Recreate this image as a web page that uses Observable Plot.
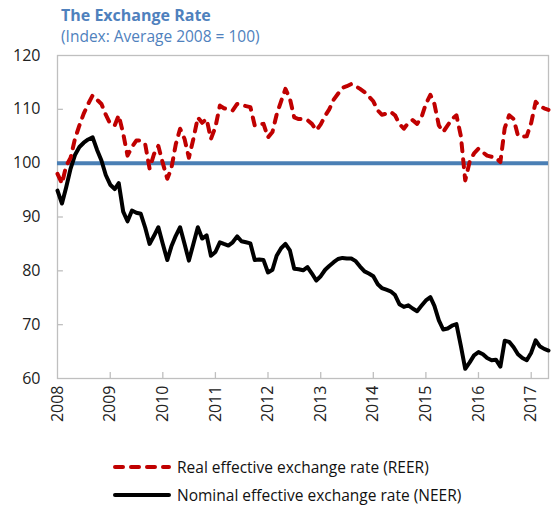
<!DOCTYPE html>
<html>
<head>
<meta charset="utf-8">
<script src="https://cdn.jsdelivr.net/npm/d3@7"></script>
<script src="https://cdn.jsdelivr.net/npm/@observablehq/plot@0.6"></script>
<style>
  body { margin: 0; background: #fff; font-family: "Open Sans", "Noto Sans", sans-serif; }
  #wrap { width: 551px; height: 508px; position: relative; overflow: hidden; }
  #hdr { height: 40px; padding-left: 61px; box-sizing: border-box; color: #4f81bd; }
  #title { font-weight: bold; font-size: 16px; line-height: 18px; padding-top: 6px; }
  #sub { font-size: 15.5px; line-height: 20px; padding-top: 2px; }
  #legend { padding-left: 113px; font-size: 15.5px; color: #111; }
  .item { display: flex; align-items: center; height: 28px; }
  .item svg { margin-right: 6px; }
</style>
</head>
<body>
<div id="wrap">
  <div id="hdr"><div id="title">The Exchange Rate</div><div id="sub">(Index: Average 2008 = 100)</div></div>
  <div id="chart"></div>
  <div id="legend"></div>
</div>
<script>
// Monthly observations, January 2008 through May 2017
const startYear = 2008;
const reer = [
  98.0, 96.2, 99.5, 101.0, 104.5, 107.0, 109.2, 111.0, 112.6, 111.8, 111.0, 109.0,
  107.3, 107.0, 108.9, 105.5, 101.4, 103.0, 104.2, 104.2, 103.5, 99.0, 101.7, 103.2,
  100.0, 97.1, 99.0, 103.5, 106.4, 104.5, 101.0, 104.5, 108.5, 107.5, 108.2, 104.5,
  106.7, 110.7, 110.2, 110.0, 109.8, 111.0, 110.8, 110.6, 110.4, 107.0, 107.2, 107.3,
  104.8, 105.8, 109.0, 111.5, 113.8, 112.0, 108.5, 108.2, 108.2, 108.0, 107.3, 106.1,
  107.2, 108.8, 110.0, 111.8, 112.9, 114.0, 114.3, 114.7, 114.3, 113.8, 113.2, 112.4,
  111.5, 109.8, 109.0, 109.2, 109.5, 108.9, 107.3, 106.4, 107.5, 108.0, 107.3, 108.5,
  111.0, 112.7, 111.0, 107.0, 105.8, 107.0, 108.2, 108.9, 105.0, 96.8, 100.3, 101.8,
  102.7, 102.0, 101.4, 101.2, 101.0, 100.2, 106.5, 108.9, 108.2, 105.1, 104.9, 105.0,
  107.5, 111.4, 110.6, 110.2, 109.9
];
const neer = [
  94.9, 92.5, 95.5, 99.0, 101.5, 103.0, 103.8, 104.4, 104.8, 102.5, 100.5, 97.8,
  96.0, 95.2, 96.3, 91.0, 89.2, 91.2, 90.8, 90.6, 88.0, 85.0, 86.5, 88.1,
  85.0, 82.0, 84.5, 86.5, 88.1, 85.0, 81.9, 85.0, 88.1, 86.0, 86.6, 82.8,
  83.5, 85.3, 85.0, 84.7, 85.3, 86.4, 85.5, 85.3, 85.1, 82.0, 82.1, 82.0,
  79.7, 80.2, 82.8, 84.2, 85.0, 83.8, 80.4, 80.3, 80.1, 80.7, 79.5, 78.2,
  79.0, 80.2, 80.9, 81.6, 82.2, 82.4, 82.3, 82.3, 81.8, 80.8, 79.9, 79.5,
  79.0, 77.5, 76.8, 76.5, 76.2, 75.5, 73.8, 73.3, 73.6, 73.0, 72.5, 73.5,
  74.5, 75.1, 73.5, 70.8, 69.1, 69.3, 69.8, 70.1, 66.0, 61.8, 63.0, 64.3,
  64.9, 64.5, 63.8, 63.4, 63.5, 62.2, 67.0, 66.8, 65.8, 64.5, 63.8, 63.4,
  64.8, 67.1, 66.0, 65.5, 65.2
];
const baseline = [100];
const yTicks = [60, 70, 80, 90, 100, 110, 120];
const xTickYears = [2008, 2009, 2010, 2011, 2012, 2013, 2014, 2015, 2016, 2017];
const seriesNames = ["Real effective exchange rate (REER)", "Nominal effective exchange rate (NEER)"];

const months = reer.map((_, i) => new Date(Date.UTC(startYear, i, 1)));
const reerData = months.map((d, i) => ({date: d, value: reer[i]}));
const neerData = months.map((d, i) => ({date: d, value: neer[i]}));
const xTicks = xTickYears.map(y => new Date(Date.UTC(y, 0, 1)));
const xStart = months[0], xEnd = months[months.length - 1];
const tickLenX = 5 * 86400000 * 8.2; // ~5px worth of time
const REDC = "#c00000", BLUEC = "#4a7fb5", GRID = "#bfbfbf";

const chart = Plot.plot({
  width: 551,
  height: 383,
  marginLeft: 57,
  marginRight: 3,
  marginTop: 15,
  marginBottom: 45,
  style: {fontFamily: "'Open Sans', 'Noto Sans', sans-serif", fontSize: "16px", color: "#222", background: "#fff"},
  x: {type: "utc", domain: [xStart, xEnd]},
  y: {domain: [60, 120]},
  marks: [
    Plot.frame({stroke: GRID, strokeWidth: 1.3}),
    Plot.ruleY(yTicks.slice(1, -1), {x1: xStart, x2: new Date(+xStart + tickLenX), stroke: GRID, strokeWidth: 1.3}),
    Plot.ruleX(xTicks.slice(1), {y1: 60, y2: 61.1, stroke: GRID, strokeWidth: 1.3}),
    Plot.axisY({ticks: yTicks, tickSize: 0, tickPadding: 17, label: null, fontSize: 16}),
    Plot.axisX({ticks: xTicks, tickSize: 0, tickPadding: 7, tickRotate: -90, tickFormat: d3.utcFormat("%Y"), label: null, fontSize: 16}),
    Plot.ruleY(baseline, {stroke: BLUEC, strokeWidth: 4}),
    Plot.line(neerData, {x: "date", y: "value", stroke: "#000", strokeWidth: 4, strokeLinejoin: "round"}),
    Plot.line(reerData, {x: "date", y: "value", stroke: REDC, strokeWidth: 4, strokeDasharray: "8,8", strokeLinecap: "round", strokeLinejoin: "round"})
  ]
});
document.getElementById("chart").appendChild(chart);

const legend = document.getElementById("legend");
legend.style.paddingTop = "30px";
const styles = [{stroke: REDC, dash: "8,8"}, {stroke: "#000", dash: null}];
seriesNames.forEach((name, i) => {
  const row = document.createElement("div");
  row.className = "item";
  const s = styles[i];
  row.innerHTML = `<svg width="58" height="10"><line x1="2" y1="5" x2="56" y2="5" stroke="${s.stroke}" stroke-width="4" stroke-linecap="round" ${s.dash ? `stroke-dasharray="${s.dash}"` : ""}/></svg><span>${name}</span>`;
  legend.appendChild(row);
});
</script>
</body>
</html>
